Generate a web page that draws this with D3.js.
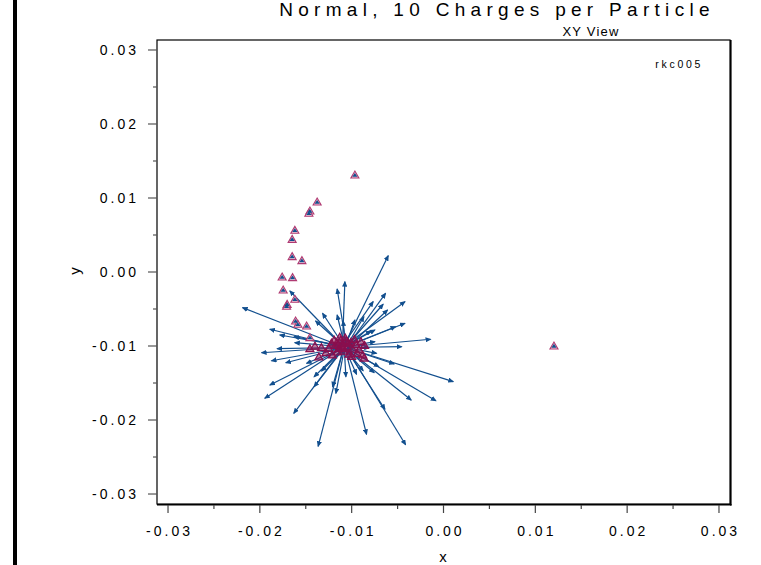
<!DOCTYPE html>
<html>
<head>
<meta charset="utf-8">
<script src="https://cdn.jsdelivr.net/npm/d3@7"></script>
<style>
  html, body { margin: 0; padding: 0; background: #fff; }
  svg { display: block; }
  text { font-family: "Liberation Sans", Arial, sans-serif; fill: #000; }
</style>
</head>
<body>
<svg id="chart" width="761" height="565"></svg>
<script>
// ---- data ----
const titleText = 'Normal, 10 Charges per Particle';
const subtitleText = 'XY View';
const tagText = 'rkc005';
const xTicks = [-0.03, -0.02, -0.01, 0.00, 0.01, 0.02, 0.03];
const yTicks = [-0.03, -0.02, -0.01, 0.00, 0.01, 0.02, 0.03];
const minorTicks = [-0.025, -0.015, -0.005, 0.005, 0.015, 0.025];

// arrow start points (near the cluster) and end points
const arrowX0 = [-0.0108, -0.0110, -0.0106, -0.0104, -0.0107, -0.0109, -0.0105, -0.0103, -0.0112, -0.0111,
                 -0.0109, -0.0108, -0.0107, -0.0106, -0.0105, -0.0110, -0.0104, -0.0105, -0.0106, -0.0112,
                 -0.0111, -0.0110, -0.0104, -0.0105, -0.0112, -0.0111, -0.0112, -0.0111, -0.0110, -0.0104,
                 -0.0105, -0.0106, -0.0104, -0.0105, -0.0111, -0.0112, -0.0110, -0.0109, -0.0106, -0.0107,
                 -0.0105, -0.0109, -0.0108, -0.0108, -0.0107, -0.0106, -0.0109, -0.0106, -0.0105, -0.0106,
                 -0.0110, -0.0109, -0.0110, -0.0105, -0.0107];
const arrowY0 = [-0.0099, -0.0098, -0.0098, -0.0099, -0.0099, -0.0098, -0.0099, -0.0100, -0.0100, -0.0098,
                 -0.0099, -0.0098, -0.0098, -0.0098, -0.0099, -0.0099, -0.0100, -0.0100, -0.0099, -0.0101,
                 -0.0100, -0.0100, -0.0101, -0.0102, -0.0102, -0.0102, -0.0103, -0.0103, -0.0103, -0.0103,
                 -0.0103, -0.0103, -0.0104, -0.0104, -0.0104, -0.0104, -0.0104, -0.0104, -0.0104, -0.0104,
                 -0.0104, -0.0104, -0.0104, -0.0104, -0.0104, -0.0104, -0.0104, -0.0100, -0.0102, -0.0101,
                 -0.0104, -0.0104, -0.0101, -0.0102, -0.0104];
const arrowX1 = [-0.00602, -0.01074, -0.01158, -0.00631, -0.00420, -0.00766, -0.00657, -0.00609, -0.02188, -0.01673,
                 -0.01317, -0.01158, -0.01093, -0.00965, -0.00867, -0.01393, -0.00420, -0.00522, -0.00747, -0.01891,
                 -0.01782, -0.01626, -0.00141, -0.00456, -0.01981, -0.01812, -0.01873, -0.01717, -0.01491, 0.00106,
                 -0.00537, -0.00704, -0.00083, -0.00352, -0.01891, -0.01946, -0.01630, -0.01409, -0.00638, -0.00838,
                 -0.00413, -0.01365, -0.01172, -0.01063, -0.00947, -0.00755, -0.01208, -0.00791, -0.00809, -0.00747,
                 -0.01409, -0.01328, -0.01619, -0.00729, -0.00875];
const arrowY1 = [0.00220, -0.00131, -0.00230, -0.00288, -0.00401, -0.00401, -0.00436, -0.00514, -0.00482, -0.00257,
                 -0.00558, -0.00581, -0.00662, -0.00649, -0.00604, -0.00662, -0.00693, -0.00739, -0.00784, -0.00774,
                 -0.00851, -0.00874, -0.00909, -0.01009, -0.01091, -0.01036, -0.01199, -0.01226, -0.01234, -0.01482,
                 -0.01243, -0.01280, -0.01739, -0.01730, -0.01527, -0.01707, -0.01909, -0.01550, -0.01855, -0.02193,
                 -0.02334, -0.02355, -0.01639, -0.01415, -0.01382, -0.01361, -0.01550, -0.00797, -0.01023, -0.00942,
                 -0.01415, -0.01338, -0.00955, -0.01099, -0.01334];

// particles that barely moved (triangle with a tiny arrow on top)
const arcX = [-0.00965, -0.01376, -0.01455, -0.01466, -0.01619, -0.01648, -0.01648, -0.01542, -0.01757, -0.01644,
              -0.01746, -0.01619, -0.01703, -0.01709, -0.01611, -0.01491, -0.01586, -0.01455, 0.01203];
const arcY = [0.01301, 0.00936, 0.00815, 0.00784, 0.00554, 0.00432, 0.00199, 0.00145, -0.00077, -0.00085,
              -0.00253, -0.00378, -0.00446, -0.00473, -0.00672, -0.00739, -0.00716, -0.00896, -0.01009];

// particles in and near the central cluster
const clusterX = [-0.0110, -0.0105, -0.0114, -0.0101, -0.0118, -0.0108, -0.0099, -0.0112, -0.0122, -0.0095,
                  -0.0107, -0.0116, -0.0103, -0.0125, -0.0092, -0.0111, -0.0104, -0.0119, -0.0097, -0.0128,
                  -0.0088, -0.0113, -0.0100, -0.0121, -0.0106, -0.0094, -0.0115, -0.0109, -0.01455, -0.01357,
                  -0.00864, -0.0133, -0.0140, -0.0086, -0.0090];
const clusterY = [-0.0098, -0.0102, -0.0104, -0.0096, -0.0100, -0.0108, -0.0105, -0.0093, -0.0097, -0.0099,
                  -0.0090, -0.0109, -0.0112, -0.0104, -0.0106, -0.0101, -0.0097, -0.0093, -0.0092, -0.0110,
                  -0.0113, -0.0089, -0.0115, -0.0113, -0.0094, -0.0111, -0.0098, -0.0104, -0.01045, -0.01158,
                  -0.01172, -0.0103, -0.0101, -0.0100, -0.0095];

// ---- layout ----
const svg = d3.select('#chart');
const frame = { left: 157, right: 730, top: 40, bottom: 504 };
const blue = '#124f8e';
const maroon = '#8a0f4e';

const x = d3.scaleLinear().domain([-0.0312, 0.0312]).range([frame.left, frame.right]);
const y = d3.scaleLinear().domain([-0.03135, 0.03135]).range([frame.bottom, frame.top]);

// left black bar
svg.append('rect').attr('x', 13).attr('y', 0).attr('width', 4).attr('height', 565).attr('fill', '#000');

// titles
svg.append('text').attr('x', 497).attr('y', 16).attr('text-anchor', 'middle')
  .attr('font-size', 19).attr('letter-spacing', 5.3).text(titleText);
svg.append('text').attr('x', 591).attr('y', 36).attr('text-anchor', 'middle')
  .attr('font-size', 13).attr('letter-spacing', 1.2).text(subtitleText);

// arrowhead marker
const defs = svg.append('defs');
defs.append('marker').attr('id', 'head')
  .attr('viewBox', '0 -2.6 6 5.2').attr('refX', 5).attr('refY', 0)
  .attr('markerWidth', 6).attr('markerHeight', 5.2).attr('markerUnits', 'userSpaceOnUse')
  .attr('orient', 'auto')
  .append('path').attr('d', 'M0,-2.6L6,0L0,2.6Z').attr('fill', blue);

const plot = svg.append('g');

// arrows
const arrows = arrowX1.map((v, i) => ({ x0: arrowX0[i], y0: arrowY0[i], x1: v, y1: arrowY1[i] }));
plot.selectAll('line.arrow').data(arrows).join('line')
  .attr('class', 'arrow')
  .attr('x1', d => x(d.x0)).attr('y1', d => y(d.y0))
  .attr('x2', d => x(d.x1)).attr('y2', d => y(d.y1))
  .attr('stroke', blue).attr('stroke-width', 1.2)
  .attr('marker-end', 'url(#head)');

// triangles
const tri = d3.symbol().type(d3.symbolTriangle).size(28);
const clusterPts = clusterX.map((v, i) => [v, clusterY[i]]);
const arcPts = arcX.map((v, i) => [v, arcY[i]]);

plot.selectAll('path.cl').data(clusterPts).join('path')
  .attr('class', 'cl')
  .attr('d', tri)
  .attr('transform', d => `translate(${x(d[0])},${y(d[1])})`)
  .attr('fill', maroon).attr('fill-opacity', 0.55)
  .attr('stroke', maroon).attr('stroke-width', 1.2);

plot.selectAll('path.arc').data(arcPts).join('path')
  .attr('class', 'arc')
  .attr('d', tri)
  .attr('transform', d => `translate(${x(d[0])},${y(d[1])})`)
  .attr('fill', '#f2cfdd')
  .attr('stroke', '#b03a72').attr('stroke-width', 1.1);

// tiny arrowheads on the barely moving particles
plot.selectAll('path.tiny').data(arcPts).join('path')
  .attr('class', 'tiny')
  .attr('d', 'M-2.6,1L0,-2.8L2.6,1Z')
  .attr('transform', d => `translate(${x(d[0])},${y(d[1])})`)
  .attr('fill', blue);

// frame
svg.append('rect')
  .attr('x', frame.left).attr('y', frame.top)
  .attr('width', frame.right - frame.left).attr('height', frame.bottom - frame.top)
  .attr('fill', 'none').attr('stroke', '#000').attr('stroke-width', 1.2);
svg.append('line').attr('x1', frame.right + 0.8).attr('x2', frame.right + 0.8)
  .attr('y1', frame.top).attr('y2', frame.bottom + 1.5).attr('stroke', '#000').attr('stroke-width', 1.6);
svg.append('line').attr('x1', frame.left).attr('x2', frame.right + 1.5)
  .attr('y1', frame.bottom + 0.8).attr('y2', frame.bottom + 0.8).attr('stroke', '#000').attr('stroke-width', 1.6);

// tag
svg.append('text').attr('x', 703).attr('y', 68).attr('text-anchor', 'end')
  .attr('font-size', 10.5).attr('letter-spacing', 2.7).text(tagText);

// x axis
const xAxis = svg.append('g').attr('transform', `translate(0,${frame.bottom + 1})`);
xAxis.selectAll('line.maj').data(xTicks).join('line')
  .attr('x1', d => x(d)).attr('x2', d => x(d)).attr('y1', 0).attr('y2', 8)
  .attr('stroke', '#444').attr('stroke-width', 1.2);
xAxis.selectAll('line.min').data(minorTicks).join('line')
  .attr('x1', d => x(d)).attr('x2', d => x(d)).attr('y1', 0).attr('y2', 4)
  .attr('stroke', '#444').attr('stroke-width', 1.2);
xAxis.selectAll('text').data(xTicks).join('text')
  .attr('x', d => x(d) + 1.5).attr('y', 31).attr('text-anchor', 'middle')
  .attr('font-size', 14).attr('letter-spacing', 3)
  .text(d => d3.format('.2f')(d).replace('−', '-'));
svg.append('text').attr('x', 443).attr('y', 562).attr('text-anchor', 'middle')
  .attr('font-size', 15).text('x');

// y axis
const yAxis = svg.append('g').attr('transform', `translate(${frame.left},0)`);
yAxis.selectAll('line.maj').data(yTicks).join('line')
  .attr('x1', -9).attr('x2', 0).attr('y1', d => y(d)).attr('y2', d => y(d))
  .attr('stroke', '#555').attr('stroke-width', 1.2);
yAxis.selectAll('line.min').data(minorTicks).join('line')
  .attr('x1', -4).attr('x2', 0).attr('y1', d => y(d)).attr('y2', d => y(d))
  .attr('stroke', '#555').attr('stroke-width', 1.2);
yAxis.selectAll('text').data(yTicks).join('text')
  .attr('x', -18).attr('y', d => y(d) + 5).attr('text-anchor', 'end')
  .attr('font-size', 14).attr('letter-spacing', 3)
  .text(d => d3.format('.2f')(d).replace('−', '-'));
svg.append('text').attr('transform', 'translate(80,271) rotate(-90)')
  .attr('text-anchor', 'middle').attr('font-size', 15).text('y');
</script>
</body>
</html>
